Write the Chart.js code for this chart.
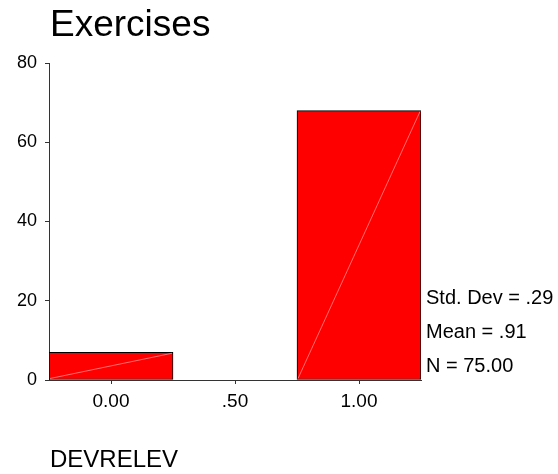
<!DOCTYPE html>
<html>
<head>
<meta charset="utf-8">
<script src="https://cdn.jsdelivr.net/npm/chart.js@4/dist/chart.umd.min.js"></script>
<style>
  html, body { margin: 0; padding: 0; background: #ffffff; }
  #wrap { width: 558px; height: 474px; }
</style>
</head>
<body>
<div id="wrap"><canvas id="c" width="558" height="474"></canvas></div>
<script>
const chartTitle = 'Exercises';
const xAxisLabel = 'DEVRELEV';
const categories = ['0.00', '.50', '1.00'];
const counts = [7, 0, 68];
const yTickValues = [0, 20, 40, 60, 80];
const statsLines = ['Std. Dev = .29', 'Mean = .91', 'N = 75.00'];

const FONT = '"Liberation Sans", Arial, sans-serif';

const textPlugin = {
  id: 'spssText',
  afterDraw(chart) {
    const ctx = chart.ctx;
    const area = chart.chartArea;
    ctx.save();
    ctx.fillStyle = '#000000';
    ctx.textAlign = 'left';
    ctx.textBaseline = 'alphabetic';
    // title
    ctx.font = '37px ' + FONT;
    ctx.fillText(chartTitle, area.left + 1, 36);
    // x axis name
    ctx.font = '24px ' + FONT;
    ctx.fillText(xAxisLabel, area.left + 1, 467);
    // stats
    ctx.font = '20px ' + FONT;
    const baseY = 304;
    statsLines.forEach((s, i) => ctx.fillText(s, area.right + 5, baseY + i * 34));
    ctx.restore();
  }
};

const diagPlugin = {
  id: 'diag',
  afterDatasetsDraw(chart) {
    const ctx = chart.ctx;
    const meta = chart.getDatasetMeta(0);
    ctx.save();
    ctx.strokeStyle = 'rgba(255,170,170,0.8)';
    ctx.lineWidth = 0.8;
    meta.data.forEach(bar => {
      const p = bar.getProps(['x', 'y', 'base', 'width'], true);
      if (Math.abs(p.base - p.y) < 1) return;
      ctx.beginPath();
      ctx.moveTo(p.x - p.width / 2 + 1, p.base - 1);
      ctx.lineTo(p.x + p.width / 2 - 1, p.y + 1);
      ctx.stroke();
    });
    ctx.restore();
  }
};

new Chart(document.getElementById('c'), {
  type: 'bar',
  data: {
    labels: categories,
    datasets: [{
      data: counts,
      backgroundColor: '#ff0000',
      borderColor: '#000000',
      borderWidth: 1,
      borderSkipped: false,
      barPercentage: 1,
      categoryPercentage: 1
    }]
  },
  options: {
    responsive: false,
    animation: false,
    layout: { padding: { left: 0, right: 137, top: 63, bottom: 0 } },
    plugins: {
      legend: { display: false },
      tooltip: { enabled: false },
      title: { display: false }
    },
    scales: {
      x: {
        type: 'category',
        offset: true,
        grid: {
          offset: false,
          drawOnChartArea: false,
          drawTicks: true,
          tickLength: 4,
          color: '#333333'
        },
        border: { display: true, color: '#333333', width: 1 },
        ticks: {
          color: '#000000',
          font: { family: FONT, size: 19 },
          padding: 6,
          maxRotation: 0
        },
        afterFit(scale) { scale.height = 94; }
      },
      y: {
        min: 0,
        max: 80,
        afterBuildTicks(scale) { scale.ticks = yTickValues.map(v => ({ value: v })); },
        grid: {
          drawOnChartArea: false,
          drawTicks: true,
          tickLength: 4,
          color: '#333333'
        },
        border: { display: true, color: '#333333', width: 1 },
        ticks: {
          color: '#000000',
          font: { family: FONT, size: 18 },
          padding: 8
        },
        afterFit(scale) { scale.width = 49; }
      }
    }
  },
  plugins: [diagPlugin, textPlugin]
});
</script>
</body>
</html>
